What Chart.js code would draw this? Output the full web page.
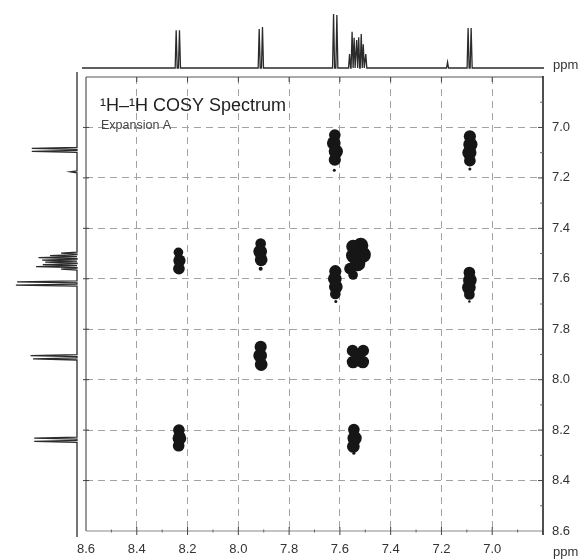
<!DOCTYPE html>
<html>
<head>
<meta charset="utf-8">
<title>1H-1H COSY Spectrum</title>
<script src="https://cdn.jsdelivr.net/npm/chart.js@4.4.1/dist/chart.umd.min.js"></script>
<style>
  html, body { margin: 0; padding: 0; background: #fff; }
  #wrap { position: relative; width: 585px; height: 560px; overflow: hidden; }
  #wrap canvas { position: absolute; left: 0; top: 0; }
</style>
</head>
<body>
<div id="wrap">
  <canvas id="cosy" width="585" height="560"></canvas>
  <canvas id="projTop" width="585" height="77"></canvas>
  <canvas id="projLeft" width="80" height="560"></canvas>
</div>
<script>
// ---- 1D proton spectrum: resolved lines (ppm) and relative heights ----
const lineShift  = [8.245, 8.232, 7.918, 7.905, 7.625, 7.612,
                    7.562, 7.552, 7.544, 7.534, 7.526, 7.516, 7.508, 7.498,
                    7.176, 7.095, 7.083];
const lineHeight = [70, 70, 72, 76, 100, 98,
                    26, 67, 56, 52, 57, 63, 44, 26,
                    11, 74, 74];

// ---- 2D contour lobes: F2 (ppm), F1 (ppm), half-width of each lobe (ppm) ----
const lobeF2 = [
  7.620, 7.624, 7.616, 7.620, 7.622,          // 7.62 / 7.08
  7.088, 7.086, 7.090, 7.088, 7.088,          // 7.09 / 7.08
  7.618, 7.620, 7.616, 7.618, 7.616,          // 7.62 / 7.62
  7.090, 7.088, 7.092, 7.090, 7.090,          // 7.09 / 7.62
  7.518, 7.548, 7.510, 7.546, 7.530, 7.560, 7.548, // 7.53 / 7.53
  8.236, 8.232, 8.234,                        // 8.23 / 7.53
  7.912, 7.914, 7.910, 7.912,                 // 7.91 / 7.50
  7.912, 7.914, 7.910,                        // 7.91 / 7.91
  7.550, 7.508, 7.548, 7.510, 7.529,          // 7.53 / 7.91
  8.234, 8.232, 8.235,                        // 8.23 / 8.23
  7.545, 7.542, 7.547, 7.545                  // 7.54 / 8.23
];
const lobeF1 = [
  7.030, 7.062, 7.095, 7.128, 7.170,
  7.035, 7.068, 7.100, 7.132, 7.165,
  7.570, 7.600, 7.632, 7.660, 7.690,
  7.575, 7.605, 7.635, 7.662, 7.690,
  7.468, 7.472, 7.505, 7.508, 7.540, 7.560, 7.585,
  7.495, 7.528, 7.560,
  7.460, 7.492, 7.525, 7.560,
  7.870, 7.905, 7.940,
  7.885, 7.885, 7.930, 7.930, 7.908,
  8.200, 8.232, 8.262,
  8.198, 8.232, 8.265, 8.292
];
const lobeWidth = [
  0.023, 0.027, 0.028, 0.024, 0.006,
  0.024, 0.028, 0.028, 0.023, 0.006,
  0.024, 0.027, 0.027, 0.021, 0.006,
  0.023, 0.027, 0.027, 0.021, 0.005,
  0.030, 0.027, 0.032, 0.030, 0.030, 0.023, 0.019,
  0.019, 0.024, 0.023,
  0.021, 0.027, 0.025, 0.008,
  0.024, 0.027, 0.025,
  0.023, 0.023, 0.025, 0.025, 0.025,
  0.023, 0.027, 0.023,
  0.023, 0.028, 0.025, 0.006
];

// ---- axis ticks (ppm) ----
const xTickValues = [8.6, 8.4, 8.2, 8.0, 7.8, 7.6, 7.4, 7.2, 7.0];
const yTickValues = [7.0, 7.2, 7.4, 7.6, 7.8, 8.0, 8.2, 8.4, 8.6];
const minorTicks  = [8.5, 8.3, 8.1, 7.9, 7.7, 7.5, 7.3, 7.1, 6.9];
const gridTicks   = [8.4, 8.2, 8.0, 7.8, 7.6, 7.4, 7.2, 7.0];

const FONT = "'Liberation Sans', Arial, Helvetica, sans-serif";
const INK = '#2b2b2b';
const LINE_HW = 0.004; // half-width of a drawn spectral line, ppm

// Spectrum trace as a stick-like profile between two ppm limits
function buildTrace(hi, lo) {
  const order = lineShift.map((s, i) => i).sort((a, b) => lineShift[b] - lineShift[a]);
  const pts = [{ s: hi, h: 0 }];
  for (const i of order) {
    pts.push({ s: lineShift[i] + LINE_HW, h: 0 });
    pts.push({ s: lineShift[i], h: lineHeight[i] });
    pts.push({ s: lineShift[i] - LINE_HW, h: 0 });
  }
  pts.push({ s: lo, h: 0 });
  return pts;
}

const lobes = lobeF2.map((x, i) => ({ x: x, y: lobeF1[i], w: lobeWidth[i] }));

// Lobe radius in pixels, from its ppm half-width through the x scale
function lobeRadius(ctx) {
  const r = ctx.raw;
  if (!r) return 0;
  const s = ctx.chart.scales.x;
  return Math.abs(s.getPixelForValue(r.x + r.w) - s.getPixelForValue(r.x));
}

const isEdge = v => Math.abs(v - 8.6) < 1e-6 || Math.abs(v - 6.8) < 1e-6;
const GRID = '#a2a2a2';

// Frame, tick marks and captions of the 2D map
const decorations = {
  id: 'decorations',
  afterDraw(chart) {
    const { ctx, chartArea: a } = chart;
    const xs = chart.scales.x, ys = chart.scales.y;
    ctx.save();
    ctx.setLineDash([]);
    // frame
    ctx.strokeStyle = '#555'; ctx.lineWidth = 1.2;
    ctx.beginPath(); ctx.moveTo(a.left, a.top); ctx.lineTo(a.right, a.top); ctx.stroke();
    ctx.beginPath(); ctx.moveTo(a.left, a.top); ctx.lineTo(a.left, a.bottom); ctx.stroke();
    ctx.strokeStyle = '#888'; ctx.lineWidth = 1;
    ctx.beginPath(); ctx.moveTo(a.left, a.bottom); ctx.lineTo(a.right, a.bottom); ctx.stroke();
    ctx.strokeStyle = '#222'; ctx.lineWidth = 1.6;
    ctx.beginPath(); ctx.moveTo(a.right, a.top - 1); ctx.lineTo(a.right, a.bottom + 4); ctx.stroke();

    // tick marks
    ctx.strokeStyle = '#444'; ctx.lineWidth = 1;
    gridTicks.forEach(v => {
      const px = xs.getPixelForValue(v), py = ys.getPixelForValue(v);
      ctx.beginPath(); ctx.moveTo(px, a.bottom - 4); ctx.lineTo(px, a.bottom + 4); ctx.stroke();
      ctx.beginPath(); ctx.moveTo(px, a.top); ctx.lineTo(px, a.top + 5); ctx.stroke();
      ctx.beginPath(); ctx.moveTo(a.right - 5, py); ctx.lineTo(a.right, py); ctx.stroke();
      ctx.beginPath(); ctx.moveTo(a.left - 3, py); ctx.lineTo(a.left + 3, py); ctx.stroke();
    });
    ctx.strokeStyle = '#666';
    minorTicks.forEach(v => {
      const px = xs.getPixelForValue(v), py = ys.getPixelForValue(v);
      ctx.beginPath(); ctx.moveTo(px, a.bottom - 1.5); ctx.lineTo(px, a.bottom + 1.5); ctx.stroke();
      ctx.beginPath(); ctx.moveTo(a.right - 3, py); ctx.lineTo(a.right, py); ctx.stroke();
    });

    // captions
    ctx.fillStyle = '#222';
    ctx.textAlign = 'left';
    ctx.textBaseline = 'alphabetic';
    ctx.font = '18px ' + FONT;
    ctx.fillText('¹H–¹H COSY Spectrum', 100, 111);
    ctx.fillStyle = '#444';
    ctx.font = '12.5px ' + FONT;
    ctx.fillText('Expansion A', 101, 129);
    ctx.fillStyle = '#333';
    ctx.font = '13px ' + FONT;
    ctx.textBaseline = 'middle';
    ctx.fillText('ppm', a.right + 10, 552);
    ctx.restore();
  }
};

const unitTop = {
  id: 'unitTop',
  afterDraw(chart) {
    const { ctx, chartArea: a } = chart;
    ctx.save();
    ctx.fillStyle = '#333';
    ctx.font = '13px ' + FONT;
    ctx.textAlign = 'left';
    ctx.textBaseline = 'middle';
    ctx.fillText('ppm', a.right + 9, a.bottom - 3);
    ctx.restore();
  }
};

const quiet = { legend: { display: false }, tooltip: { enabled: false } };

// ---- 2D COSY map ----
new Chart(document.getElementById('cosy'), {
  type: 'scatter',
  data: {
    datasets: [{
      data: lobes,
      pointRadius: lobeRadius,
      pointHoverRadius: lobeRadius,
      pointBackgroundColor: '#161616',
      pointBorderWidth: 0,
      clip: false
    }]
  },
  options: {
    responsive: false,
    animation: false,
    events: [],
    layout: { padding: { left: 86, top: 77, right: 0, bottom: 0 } },
    plugins: quiet,
    scales: {
      x: {
        type: 'linear', position: 'bottom', min: 6.8, max: 8.6, reverse: true,
        afterBuildTicks: s => { s.ticks = xTickValues.map(v => ({ value: v })); },
        afterFit: s => { s.height = 29; },
        ticks: { callback: v => Number(v).toFixed(1), font: { family: FONT, size: 13 }, color: '#333',
                 padding: 11, maxRotation: 0, autoSkip: false },
        grid: { drawTicks: false, lineWidth: 1,
                color: c => (c.tick && isEdge(c.tick.value)) ? 'rgba(0,0,0,0)' : GRID },
        border: { display: false, dash: [7, 5] }
      },
      y: {
        type: 'linear', position: 'right', min: 6.8, max: 8.6, reverse: true,
        afterBuildTicks: s => { s.ticks = yTickValues.map(v => ({ value: v })); },
        afterFit: s => { s.width = 42; },
        ticks: { callback: v => Number(v).toFixed(1), font: { family: FONT, size: 13 }, color: '#333',
                 padding: 9, autoSkip: false },
        grid: { drawTicks: false, lineWidth: 1,
                color: c => (c.tick && isEdge(c.tick.value)) ? 'rgba(0,0,0,0)' : GRID },
        border: { display: false, dash: [7, 5] }
      }
    }
  },
  plugins: [decorations]
});

// ---- projection along F2 (top) ----
new Chart(document.getElementById('projTop'), {
  type: 'scatter',
  data: {
    datasets: [{
      data: buildTrace(8.616, 6.796).map(p => ({ x: p.s, y: p.h })),
      showLine: true, pointRadius: 0, borderColor: INK, borderWidth: 1.3, tension: 0, clip: false
    }]
  },
  options: {
    responsive: false, animation: false, events: [],
    layout: { padding: { left: 82, right: 41, top: 14, bottom: 9 } },
    plugins: quiet,
    scales: {
      x: { type: 'linear', display: false, min: 6.796, max: 8.616, reverse: true },
      y: { type: 'linear', display: false, min: 0, max: 100 }
    }
  },
  plugins: [unitTop]
});

// ---- projection along F1 (left) ----
new Chart(document.getElementById('projLeft'), {
  type: 'scatter',
  data: {
    datasets: [{
      data: buildTrace(8.624, 6.780).map(p => ({ x: p.h, y: p.s })),
      showLine: true, pointRadius: 0, borderColor: INK, borderWidth: 1.3, tension: 0, clip: false
    }]
  },
  options: {
    responsive: false, animation: false, events: [],
    layout: { padding: { left: 0, right: 3, top: 72, bottom: 23 } },
    plugins: quiet,
    scales: {
      x: { type: 'linear', display: false, min: 0, max: 126, reverse: true },
      y: { type: 'linear', display: false, min: 6.780, max: 8.624, reverse: true }
    }
  }
});
</script>
</body>
</html>
